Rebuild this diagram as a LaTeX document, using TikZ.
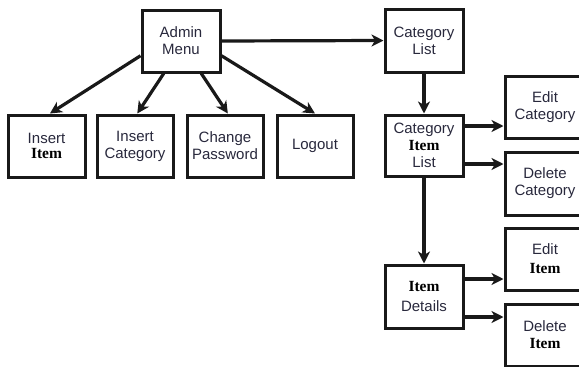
\documentclass[tikz,border=0pt]{standalone}
\usepackage{fontspec}
\setmainfont{Liberation Sans}
\newfontfamily\itemfont{Liberation Serif}
\usetikzlibrary{arrows.meta,calc}
\definecolor{txt}{RGB}{40,40,60}
\newcommand{\itm}{{\itemfont\bfseries\fontsize{15.5}{17}\selectfont\color{black}Item}}
\begin{document}
\begin{tikzpicture}[x=1pt,y=-1pt,
  box/.style={draw=black!90,line width=3pt,align=center,inner sep=0pt,
    font=\fontsize{15}{17}\selectfont,text=txt},
  arr/.style={draw=black!90,line width=3.2pt,-{Stealth[length=12pt,width=12pt,inset=3.5pt]}}]
\clip (0,0) rectangle (579,367);
% left tree
\node[box,minimum width=78,minimum height=62] (admin) at (181,41) {Admin\\Menu};
\node[box,minimum width=77,minimum height=62] (ii) at (46.5,146) {Insert\\[-2pt]\itm};
\node[box,minimum width=76,minimum height=62] (ic) at (135,146) {Insert\\Category};
\node[box,minimum width=76,minimum height=62] (cp) at (225,146) {Change\\Password};
\node[box,minimum width=76,minimum height=62] (lo) at (315,146) {Logout};
% right column
\node[box,minimum width=78,minimum height=63] (cl) at (424,40.5) {Category\\List};
\node[box,minimum width=78,minimum height=61] (cil) at (424,145.5) {Category\\\itm\\List};
\node[box,minimum width=78,minimum height=63] (id) at (424,296.5) {\itm\\[3pt]Details};
\node[box,minimum width=80,minimum height=62] (ec) at (545,107) {Edit\\Category};
\node[box,minimum width=80,minimum height=63] (dc) at (545,183.5) {Delete\\Category};
\node[box,minimum width=80,minimum height=62] (ei) at (545,259) {Edit\\[2pt]\itm};
\node[box,minimum width=80,minimum height=62] (di) at (545,335) {Delete\\\itm};
% connectors
\draw[arr] (admin.200) -- (ii.84);
\draw[arr] (admin.242) -- (ic.86);
\draw[arr] (admin.302) -- (cp.85);
\draw[arr] (admin.340) -- (lo.north);
\draw[arr] (admin.east) -- (cl.west);
\draw[arr] (cl.south) -- (cil.north);
\draw[arr] (cil.south) -- (id.north);
\coordinate (p1) at ($(cil.east)+(0,-19.5)$);
\coordinate (p2) at ($(cil.east)+(0,18.5)$);
\coordinate (p3) at ($(id.east)+(0,-17.5)$);
\coordinate (p4) at ($(id.east)+(0,20.5)$);
\draw[arr] (p1) -- (p1 -| ec.west);
\draw[arr] (p2) -- (p2 -| dc.west);
\draw[arr] (p3) -- (p3 -| ei.west);
\draw[arr] (p4) -- (p4 -| di.west);
\end{tikzpicture}
\end{document}
